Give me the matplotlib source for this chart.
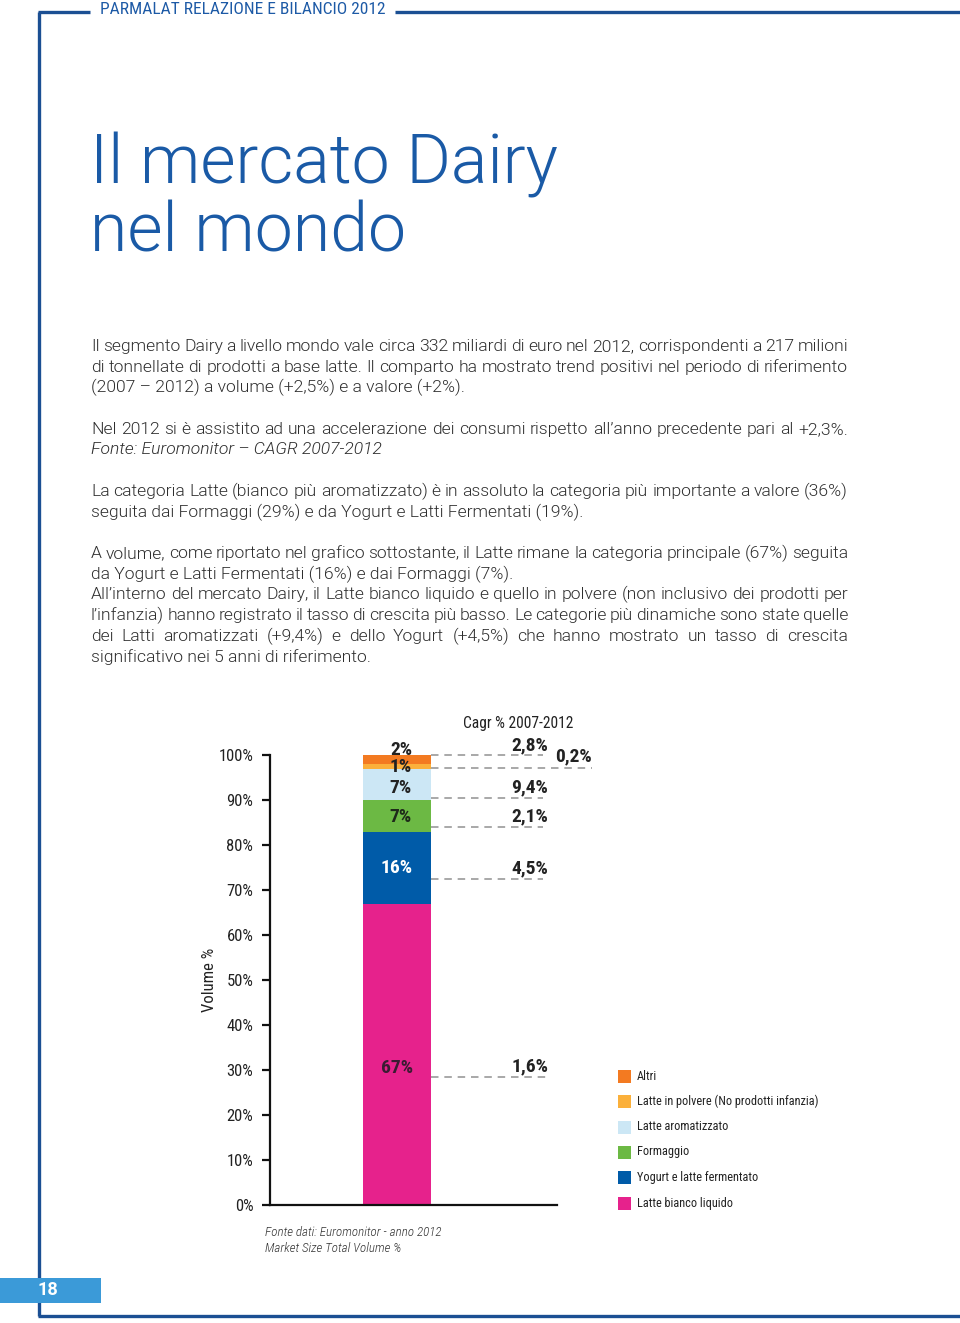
import matplotlib
matplotlib.use("Agg")
import matplotlib.pyplot as plt
from matplotlib.patches import Rectangle
from matplotlib.lines import Line2D

# ---------------- data ----------------
categories = ["Latte bianco liquido", "Yogurt e latte fermentato", "Formaggio",
              "Latte aromatizzato", "Latte in polvere (No prodotti infanzia)", "Altri"]
shares = [67, 16, 7, 7, 1, 2]
share_labels = ["67%", "16%", "7%", "7%", "1%", "2%"]
cagr_labels = ["1,6%", "4,5%", "2,1%", "9,4%", "0,2%", "2,8%"]
colors = ["#e6228c", "#005ba8", "#6cb944", "#cce7f5", "#fbb03b", "#f37a21"]
yticks = [0, 10, 20, 30, 40, 50, 60, 70, 80, 90, 100]
ytick_labels = ["0%", "10%", "20%", "30%", "40%", "50%", "60%", "70%", "80%", "90%", "100%"]

W, H = 960, 1323
fig = plt.figure(figsize=(W / 100, H / 100), dpi=100)
fig.patch.set_facecolor("white")

NARROW = ["Roboto Condensed", "DejaVu Sans"]
SANS = ["Roboto", "DejaVu Sans"]
BLUE = "#1b4f93"
TXT = "#2e2e2e"


def fx(x):
    return x / W


def fy(y):
    return 1 - y / H


# ---------------- page frame ----------------
for (x0, y0, x1, y1) in [(39, 12, 39, 1316), (38, 12, 90, 12), (395, 12, 960, 12), (38, 1316, 960, 1316)]:
    fig.add_artist(Line2D([fx(x0), fx(x1)], [fy(y0), fy(y1)], color=BLUE, lw=2.4,
                          transform=fig.transFigure, solid_capstyle="butt", zorder=1))
fig.text(fx(100), fy(10), "PARMALAT RELAZIONE E BILANCIO 2012", family=NARROW, fontsize=12.5,
         color="#1d5aa6", ha="left", va="center")
fig.add_artist(Rectangle((fx(0), fy(1303)), fx(101), 25 / H, color="#3b9ad8",
                         transform=fig.transFigure, lw=0, zorder=5))
fig.text(fx(48), fy(1290), "18", family=SANS, fontsize=13, weight="bold", color="white",
         ha="center", va="center", zorder=6)

# ---------------- title ----------------
fig.text(fx(90), fy(183), "Il mercato Dairy", family=SANS, fontsize=49, weight=300,
         color="#1a5aa6", ha="left", va="baseline")
fig.text(fx(90), fy(252), "nel mondo", family=SANS, fontsize=49, weight=300,
         color="#1a5aa6", ha="left", va="baseline")

# ---------------- body text ----------------
renderer = fig.canvas.get_renderer()
BODY_FS = 12.6
LEFT, RIGHT = 91, 848


def body_line(text, yb, justify=False, style="normal"):
    if not justify:
        fig.text(fx(LEFT), fy(yb), text, family=SANS, fontsize=BODY_FS, color=TXT, weight=300,
                 style=style, ha="left", va="baseline")
        return
    words = text.split(" ")
    arts = [fig.text(0, fy(yb), w, family=SANS, fontsize=BODY_FS, color=TXT, weight=300,
                     style=style, ha="left", va="baseline") for w in words]
    widths = [a.get_window_extent(renderer).width for a in arts]
    gap = (RIGHT - LEFT - sum(widths)) / (len(words) - 1)
    x = LEFT
    for a, w in zip(arts, widths):
        a.set_x(fx(x))
        x += w + gap


lines = [
    ("Il segmento Dairy a livello mondo vale circa 332 miliardi di euro nel 2012, corrispondenti a 217 milioni", 351, True, "normal"),
    ("di tonnellate di prodotti a base latte. Il comparto ha mostrato trend positivi nel periodo di riferimento", 372, True, "normal"),
    ("(2007 \u2013 2012) a volume (+2,5%) e a valore (+2%).", 392, False, "normal"),
    ("Nel 2012 si è assistito ad una accelerazione dei consumi rispetto all\u2019anno precedente pari al +2,3%.", 434, True, "normal"),
    ("Fonte: Euromonitor \u2013 CAGR 2007-2012", 454, False, "italic"),
    ("La categoria Latte (bianco più aromatizzato) è in assoluto la categoria più importante a valore (36%)", 496, True, "normal"),
    ("seguita dai Formaggi (29%) e da Yogurt e Latti Fermentati (19%).", 517, False, "normal"),
    ("A volume, come riportato nel grafico sottostante, il Latte rimane la categoria principale (67%) seguita", 558, True, "normal"),
    ("da Yogurt e Latti Fermentati (16%) e dai Formaggi (7%).", 579, False, "normal"),
    ("All\u2019interno del mercato Dairy, il Latte bianco liquido e quello in polvere (non inclusivo dei prodotti per", 599, True, "normal"),
    ("l\u2019infanzia) hanno registrato il tasso di crescita più basso. Le categorie più dinamiche sono state quelle", 620, True, "normal"),
    ("dei Latti aromatizzati (+9,4%) e dello Yogurt (+4,5%) che hanno mostrato un tasso di crescita", 641, True, "normal"),
    ("significativo nei 5 anni di riferimento.", 662, False, "normal"),
]
for t, yb, j, st in lines:
    body_line(t, yb, j, st)

# ---------------- chart ----------------
AX_L, AX_R, AX_B, AX_T = 270, 557, 1205, 755
ax = fig.add_axes([fx(AX_L), fy(AX_B), (AX_R - AX_L) / W, (AX_B - AX_T) / H])
ax.set_xlim(0, AX_R - AX_L)
ax.set_ylim(0, 100)
ax.patch.set_alpha(0)
for s in ["top", "right"]:
    ax.spines[s].set_visible(False)
for s in ["left", "bottom"]:
    ax.spines[s].set_linewidth(1.6)
    ax.spines[s].set_color("#111111")
ax.set_xticks([])
ax.set_yticks(yticks)
ax.set_yticklabels(ytick_labels, family=NARROW, fontsize=12, color="#222222")
ax.tick_params(axis="y", direction="out", length=6, width=1.6, color="#111111", pad=6)

bar_x, bar_w = 127, 68
bottom = 0
for v, c in zip(shares, colors):
    ax.bar(bar_x, v, width=bar_w, bottom=bottom, color=c, linewidth=0)
    bottom += v

# label positions (layout)
share_label_y = [30.4, 74.9, 86.2, 92.7, 97.3, 101.1]
share_label_x = [bar_x, bar_x, bar_x + 4, bar_x + 4, bar_x + 4, bar_x + 4]
share_label_col = ["#3a1c32", "white", "#1e2a1a", "#222222", "#222222", "#222222"]
for lab, xx, yy, cc in zip(share_labels, share_label_x, share_label_y, share_label_col):
    ax.text(xx, yy, lab, family=NARROW, fontsize=14, weight="bold", color=cc,
            ha="center", va="center", clip_on=False)

dash_y = [28.4, 72.4, 84.0, 90.4, 97.1, 100.0]
dash_end = [278, 273, 273, 273, 322, 273]
cagr_y = [30.7, 74.9, 86.4, 92.9, 99.6, 102.2]
cagr_x = [260, 260, 260, 260, 304, 260]
for lab, dy, de, cy, cx in zip(cagr_labels, dash_y, dash_end, cagr_y, cagr_x):
    ax.plot([bar_x + bar_w / 2, de], [dy, dy], ls=(0, (4.5, 3.5)), color="#9a9a9a",
            lw=1.2, clip_on=False)
    ax.text(cx, cy, lab, family=NARROW, fontsize=14, weight="bold", color="#222222",
            ha="center", va="center", clip_on=False)

ax.text(248, 107.1, "Cagr % 2007-2012", family=NARROW, fontsize=11.2, color="#222222",
        ha="center", va="center", clip_on=False)

fig.text(fx(210), fy(980), "Volume %", family=NARROW, fontsize=12, color="#222222",
         rotation=90, ha="center", va="center")

# legend
leg_y = [1203, 1177, 1152, 1127, 1101, 1076]
for cat, c, yy in zip(categories, colors, leg_y):
    fig.add_artist(Rectangle((fx(618), fy(yy + 6.5)), 13 / W, 13 / H, color=c, lw=0,
                             transform=fig.transFigure))
    fig.text(fx(637), fy(yy), cat, family=NARROW, fontsize=8.8, color="#222222",
             ha="left", va="center")

# source
fig.text(fx(265), fy(1233), "Fonte dati: Euromonitor - anno 2012", family=NARROW, fontsize=9.4,
         style="italic", weight=300, color="#333333", ha="left", va="center")
fig.text(fx(265), fy(1248), "Market Size Total Volume %", family=NARROW, fontsize=9.4,
         style="italic", weight=300, color="#333333", ha="left", va="center")

fig.savefig("out.png", dpi=100, facecolor="white")
